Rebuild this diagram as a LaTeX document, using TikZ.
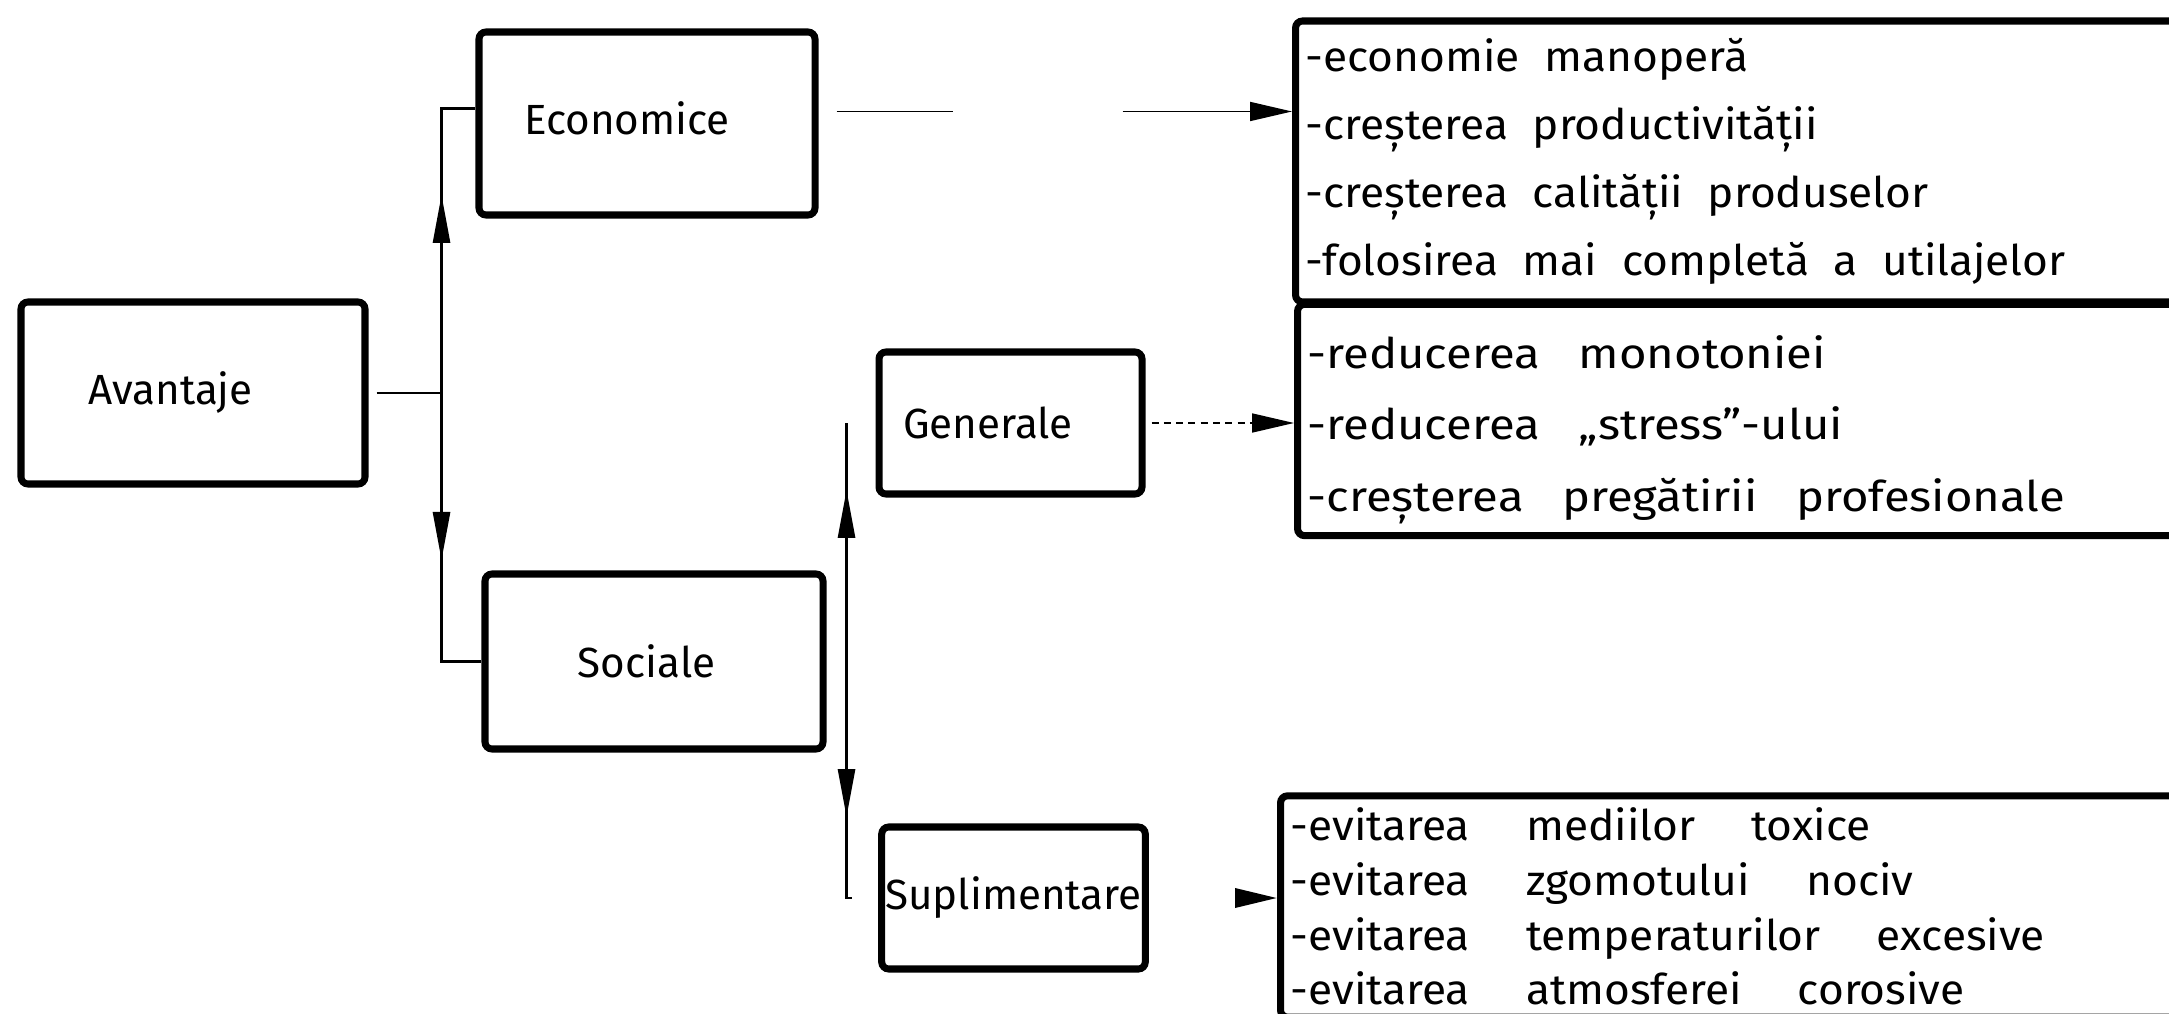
\documentclass[tikz,border=0pt]{standalone}
\usepackage{fontspec}
\setmainfont{Fira Sans}
\newfontfamily\ecofont{Fira Sans}[FakeStretch=1.05]
\newfontfamily\genfont{Fira Sans}[FakeStretch=1.12]
\newfontfamily\suplfont{Fira Sans}[FakeStretch=1.05]
\newcommand{\wgap}[1]{\spaceskip=#1\relax\xspaceskip=#1\relax}
\usetikzlibrary{arrows.meta,decorations.markings,calc}
\tikzstyle{mybox} = [draw=black, fill=white, line width=2pt,
    rectangle, rounded corners=2pt, font=\fontsize{12}{14}\selectfont]
\tikzstyle{listbox} = [draw=black, line width=2pt, rectangle, rounded corners=2pt,
    anchor=west, text width=8.8cm, inner xsep=0.1cm]
\tikzstyle{conn} = [line width=0.8pt]
\tikzstyle{dotconn} = [line width=0.5pt, black]
\tikzstyle{tipin} = [-{Triangle[length=0.42cm,width=0.19cm]}]
\tikzset{midarrow/.style={postaction={decorate}, decoration={markings,
    mark=at position #1 with {\arrow{Triangle[length=0.48cm,width=0.17cm]}}}}}
\newcommand{\boxlbl}[3]{\hspace*{#1}\raisebox{#2}{#3}}

\begin{document}
\begin{tikzpicture}
\useasboundingbox[fill=white] (0,0) rectangle (21.69,10.13);
\clip (0,0) rectangle (21.69,10.13);
% boxes
\node [mybox, minimum width=3.44cm, minimum height=1.82cm] (avantaje) at (1.93,6.20) {\boxlbl{-0.45cm}{0pt}{Avantaje}};
\node [mybox, minimum width=3.36cm, minimum height=1.83cm] (economice) at (6.47,8.895) {\boxlbl{-0.4cm}{0.11cm}{Economice}};
\node [mybox, minimum width=3.38cm, minimum height=1.75cm] (sociale) at (6.54,3.515) {\boxlbl{-0.15cm}{0pt}{Sociale}};
\node [mybox, minimum width=2.63cm, minimum height=1.42cm] (generale) at (10.105,5.90) {\boxlbl{-0.45cm}{-0.08cm}{Generale}};
\node [mybox, minimum width=2.61cm, minimum height=1.42cm, inner xsep=1pt] (suplimentare) at (10.135,1.15) {\boxlbl{0pt}{-0.1cm}{Suplimentare}};
% lists
\node [listbox, minimum height=2.81cm, font=\ecofont\fontsize{12}{19.4}\selectfont] (ecolist) at (12.92,8.515) {%
    \wgap{7pt}-economie manoperă\\
    -creșterea productivității\\
    -creșterea calității produselor\\
    -folosirea mai completă a utilajelor};
\node [listbox, minimum height=2.18cm, font=\genfont\fontsize{12}{20.4}\selectfont] (genlist) at (12.94,5.93) {%
    \wgap{11pt}\rule{0pt}{0.52cm}-reducerea monotoniei\\
    -reducerea „stress”-ului\\
    -creșterea pregătirii profesionale};
\node [listbox, minimum height=2.07cm, font=\suplfont\fontsize{12}{15.6}\selectfont] (supllist) at (12.77,1.065) {%
    \wgap{16pt}-evitarea mediilor toxice\\
    -evitarea zgomotului nociv\\
    -evitarea temperaturilor excesive\\
    -evitarea atmosferei corosive};
% connectors
\coordinate (j) at ($(avantaje.east)+(0.73,0)$);
\draw[conn, shorten <=0.08cm] (avantaje.east) -- (j);
\draw[conn, midarrow=1.98cm] (j) |- ($(economice.west)+(0,0.15)$);
\draw[conn, midarrow=1.67cm] (j) |- (sociale.west);
\coordinate (sj) at ($(sociale.east)+(0.2,0)$);
\draw[conn, midarrow=1.715cm] (sj) -- (sj |- generale.west);
\draw[conn, midarrow=1.555cm] (sj) |- ($(suplimentare.west)+(-0.26,0)$);
% to the lists
\coordinate (ecoout) at ($(economice.east)+(0,0.12)$);
\draw[dotconn, tipin, dash pattern=on 1.16cm off 1.7cm on 5cm, shorten <=0.18cm] (ecoout) -- (ecoout -| ecolist.west);
\draw[dotconn, tipin, dash pattern=on 2pt off 1.5pt, shorten <=0.06cm] (generale.east) -- (generale.east -| genlist.west);
\coordinate (suplout) at ($(suplimentare.east)+(0.87,0)$);
\draw[tipin, line width=1pt] (suplout) -- (suplout -| supllist.west);
\end{tikzpicture}
\end{document}
